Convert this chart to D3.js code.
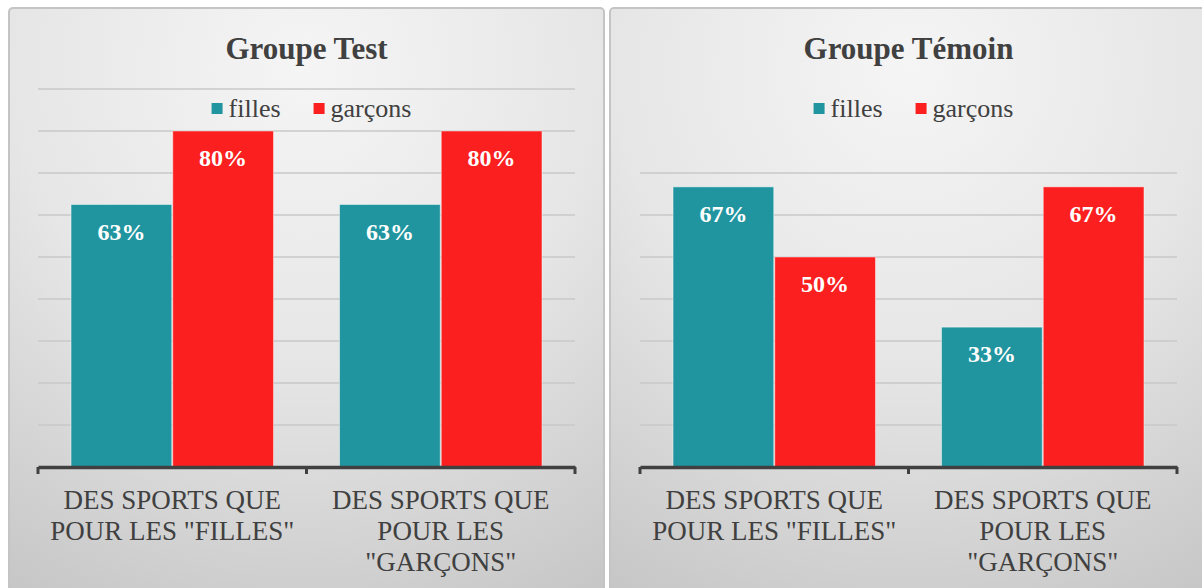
<!DOCTYPE html>
<html>
<head>
<meta charset="utf-8">
<script src="https://cdn.jsdelivr.net/npm/d3@7"></script>
</head>
<body style="margin:0;padding:0;background:#ffffff">
<svg id="chart" width="1202" height="588" style="display:block"></svg>
<script>
// ---------- DATA ----------
const categories = ["cat1", "cat2"];
const categoryLabels = [
  ["DES SPORTS QUE", "POUR LES \"FILLES\""],
  ["DES SPORTS QUE", "POUR LES", "\"GARÇONS\""]
];
const seriesNames = ["filles", "garçons"];
const seriesColors = ["#21959F", "#FB1F1F"];

const testTitle = "Groupe Test";
const testFilles = [62.5, 62.5];
const testGarcons = [80, 80];
const testMax = 90;

const temoinTitle = "Groupe Témoin";
const temoinFilles = [66.7, 33.3];
const temoinGarcons = [50, 66.7];
const temoinMax = 70;

const gridStep = 10;

// ---------- DRAW ----------
const FONT = '"Liberation Serif"';
const svg = d3.select("#chart");
const defs = svg.append("defs");
const grad = defs.append("radialGradient")
  .attr("id", "bg").attr("cx", "50%").attr("cy", "10%").attr("r", "110%")
  .attr("fx", "50%").attr("fy", "10%");
grad.append("stop").attr("offset", "0%").attr("stop-color", "#f5f5f5");
grad.append("stop").attr("offset", "45%").attr("stop-color", "#e6e6e6");
grad.append("stop").attr("offset", "100%").attr("stop-color", "#c0c0c0");

const textColor = "#404040";

function drawPanel(opts) {
  const g = svg.append("g");
  g.append("rect")
    .attr("x", opts.px).attr("y", 8)
    .attr("width", opts.pw).attr("height", 600)
    .attr("rx", 4)
    .attr("fill", "url(#bg)")
    .attr("stroke", "#c4c4c4").attr("stroke-width", 2);

  const baseY = 467;
  const pxPer = 4.2;
  const y = d3.scaleLinear().domain([0, opts.max]).range([baseY, baseY - opts.max * pxPer]);
  const x0 = d3.scaleBand().domain(categories).range([opts.x0, opts.x1]).padding(0);
  const bw = x0.bandwidth();
  const x1 = d3.scaleBand().domain(seriesNames).range([bw * 0.123, bw * 0.877]).paddingInner(0.01);

  const ticks = d3.range(gridStep, opts.max + 0.001, gridStep);
  g.append("g").selectAll("line").data(ticks).join("line")
    .attr("x1", opts.x0).attr("x2", opts.x1)
    .attr("y1", d => y(d)).attr("y2", d => y(d))
    .attr("stroke", "#c9c9c9").attr("stroke-width", 1.5);

  const rows = categories.map((c, i) => ({ cat: c, vals: [opts.filles[i], opts.garcons[i]] }));
  const grp = g.append("g").selectAll("g").data(rows).join("g")
    .attr("transform", d => `translate(${x0(d.cat)},0)`);
  const bars = grp.selectAll("g").data(d => d.vals.map((v, j) => ({ s: seriesNames[j], v, j })))
    .join("g");
  bars.append("rect")
    .attr("x", d => x1(d.s)).attr("width", x1.bandwidth())
    .attr("y", d => y(d.v)).attr("height", d => baseY - y(d.v))
    .attr("fill", d => seriesColors[d.j])
    .attr("stroke", "rgba(255,255,255,0.45)").attr("stroke-width", 1);
  bars.append("text")
    .attr("x", d => x1(d.s) + x1.bandwidth() / 2)
    .attr("y", d => y(d.v) + 35)
    .attr("text-anchor", "middle")
    .style("font-family", FONT).style("font-weight", "bold").style("font-size", "24px")
    .attr("fill", "#ffffff")
    .text(d => Math.round(d.v) + "%");

  const axis = d3.axisBottom(x0).tickSize(0).tickSizeOuter(0).tickFormat("");
  const ag = g.append("g").attr("transform", `translate(0,${baseY})`).call(axis);
  ag.select(".domain").attr("stroke", "#404040").attr("stroke-width", 3.5);
  const bounds = [opts.x0].concat(categories.map(c => x0(c) + bw));
  ag.append("g").selectAll("line").data(bounds).join("line")
    .attr("x1", d => d).attr("x2", d => d).attr("y1", 0).attr("y2", 7)
    .attr("stroke", "#404040").attr("stroke-width", 3);
  ag.selectAll(".tick").each(function(d, i) {
    const t = d3.select(this).append("text")
      .style("font-family", FONT).style("font-size", "27px")
      .attr("fill", textColor).attr("text-anchor", "middle");
    categoryLabels[i].forEach((line, k) => {
      t.append("tspan").attr("x", 0).attr("y", 42 + k * 31).text(line);
    });
  });

  const cx = (opts.x0 + opts.x1) / 2;
  g.append("text")
    .attr("x", cx).attr("y", 59)
    .attr("text-anchor", "middle")
    .style("font-family", FONT).style("font-weight", "bold").style("font-size", "31px")
    .attr("fill", textColor)
    .text(opts.title);

  const lg = g.append("g");
  let xpos = 0;
  seriesNames.forEach((s, j) => {
    lg.append("rect").attr("x", xpos).attr("y", 103).attr("width", 11).attr("height", 11)
      .attr("fill", seriesColors[j]);
    const tx = lg.append("text").attr("x", xpos + 17).attr("y", 117)
      .style("font-family", FONT).style("font-size", "26px")
      .attr("fill", textColor).text(s);
    xpos += 17 + tx.node().getComputedTextLength() + 33;
  });
  const lw = xpos - 33;
  lg.attr("transform", `translate(${cx + 5 - lw / 2},0)`);
}

drawPanel({ px: 9, pw: 595, x0: 38, x1: 575, title: testTitle,
  filles: testFilles, garcons: testGarcons, max: testMax });
drawPanel({ px: 610, pw: 600, x0: 640, x1: 1177, title: temoinTitle,
  filles: temoinFilles, garcons: temoinGarcons, max: temoinMax });
</script>
</body>
</html>
